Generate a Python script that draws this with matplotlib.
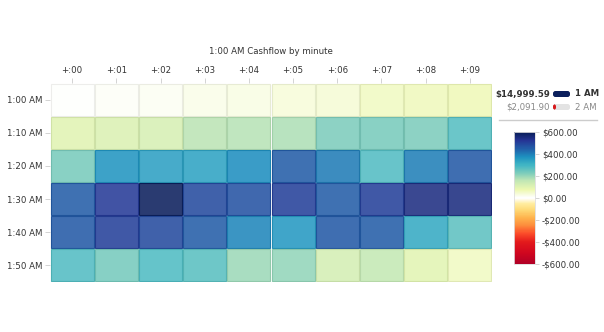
import numpy as np
import matplotlib
matplotlib.use('Agg')
import matplotlib.pyplot as plt
import matplotlib.colors as mc
from matplotlib.patches import Rectangle, FancyBboxPatch

minutes = ['+:00', '+:01', '+:02', '+:03', '+:04', '+:05', '+:06', '+:07', '+:08', '+:09']
rows = ['1:00 AM', '1:10 AM', '1:20 AM', '1:30 AM', '1:40 AM', '1:50 AM']
cash = np.array([
    [0, 5, 12, 20, 28, 35, 40, 60, 62, 70],
    [100, 110, 118, 160, 168, 175, 225, 230, 225, 275],
    [230, 370, 345, 340, 375, 450, 405, 280, 400, 455],
    [450, 515, 595, 485, 470, 505, 450, 505, 545, 550],
    [455, 505, 485, 450, 390, 360, 455, 450, 325, 265],
    [280, 235, 285, 270, 195, 205, 125, 150, 95, 60],
])
hours = ['1 AM', '2 AM']
totals = [14999.59, 2091.90]
cbar_ticks = [-600, -400, -200, 0, 200, 400, 600]

W, H = 604, 332
txt = '#333333'

# diverging map: YlOrRd below zero, YlGnBu above, white at zero
nodes = [(-600, '#b10026'), (-500, '#d0061f'), (-400, '#e31a1c'), (-320, '#fc4e2a'),
         (-250, '#fd8d3c'), (-180, '#feb24c'), (-110, '#fed976'), (-50, '#ffeda0'),
         (0, '#ffffff'), (75, '#edf8b1'), (150, '#c7e9b4'), (225, '#7fcdbb'),
         (300, '#41b6c4'), (375, '#1d91c0'), (450, '#225ea8'), (525, '#253494'),
         (600, '#081d58')]
cmap = mc.LinearSegmentedColormap.from_list(
    'cash', [((v + 600) / 1200, c) for v, c in nodes])
norm = mc.Normalize(-600, 600)

fig = plt.figure(figsize=(W / 100, H / 100), dpi=100)

def px(l, t, w, h):
    return [l / W, (H - t - h) / H, w / W, h / H]

ax = fig.add_axes(px(50, 83, 442, 199))
ax.set_xlim(0, len(minutes))
ax.set_ylim(len(rows), 0)
for i in range(len(rows)):
    for j in range(len(minutes)):
        c = np.array(cmap(norm(cash[i, j])))
        face = c.copy()
        face[3] = 0.87
        edge = c[:3] * 0.93
        ax.add_patch(Rectangle((j + 0.012, i + 0.02), 0.976, 0.96,
                               facecolor=face, edgecolor=edge, lw=0.8))
ax.xaxis.tick_top()
ax.set_xticks(np.arange(len(minutes)) + 0.5, minutes)
ax.set_yticks(np.arange(len(rows)) + 0.5, rows)
ax.tick_params(length=3.5, width=0.6, color='#cccccc', labelsize=6.2,
               labelcolor=txt, pad=2)
for s in ax.spines.values():
    s.set_visible(False)

fig.text(271 / W, 1 - 52 / H, '1:00 AM Cashflow by minute', ha='center',
         va='center', fontsize=6.2, color=txt)

# legend with totals per hour
ov = fig.add_axes([0, 0, 1, 1])
ov.set_xlim(0, W)
ov.set_ylim(H, 0)
ov.axis('off')
ov.patch.set_alpha(0)
ys = [94, 107]
for k in range(len(hours)):
    bold = 'bold' if k == 0 else 'normal'
    col = txt if k == 0 else '#888888'
    ov.text(550, ys[k], f'${totals[k]:,.2f}', ha='right', va='center',
            fontsize=6.2, fontweight=bold, color=col)
    ov.text(575, ys[k], hours[k], ha='left', va='center',
            fontsize=6.2, fontweight=bold, color=col)
    frac = totals[k] / max(totals)
    ov.add_patch(FancyBboxPatch((553, ys[k] - 3), 17, 6,
                                boxstyle='round,pad=0,rounding_size=2.5',
                                fc='#e3e3e3', ec='none'))
    fill = '#0b1f5c' if k == 0 else '#d7191c'
    ov.add_patch(FancyBboxPatch((553, ys[k] - 3), max(17 * frac, 3), 6,
                                boxstyle='round,pad=0,rounding_size=2.5',
                                fc=fill, ec='none'))
ov.plot([499, 597], [120, 120], color='#cccccc', lw=1)

cax = fig.add_axes(px(514, 132, 21, 132))
sm = plt.cm.ScalarMappable(norm=norm, cmap=cmap)
cb = fig.colorbar(sm, cax=cax, ticks=cbar_ticks)
cb.outline.set_edgecolor('#dddddd')
cb.outline.set_linewidth(0.6)
cb.ax.set_yticklabels([('-' if t < 0 else '') + f'${abs(t):,.2f}' for t in cbar_ticks])
cb.ax.tick_params(length=3, width=0.6, color='#cccccc', labelsize=6.2,
                  labelcolor=txt, pad=2)

fig.savefig('out.png', dpi=100)
